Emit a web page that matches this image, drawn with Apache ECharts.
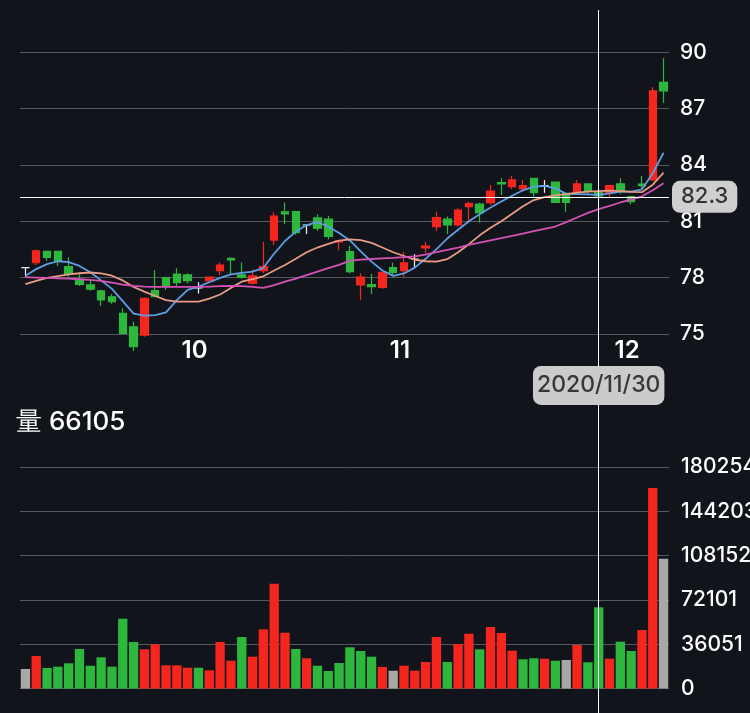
<!DOCTYPE html>
<html><head><meta charset="utf-8">
<script src="https://cdn.jsdelivr.net/npm/echarts@6/dist/echarts.min.js"></script>
<style>html,body{margin:0;padding:0;background:#12141b;}#c{width:750px;height:713px;}</style>
</head><body><div id="c"></div>
<script>
const dates = ['2020/09/15','2020/09/16','2020/09/17','2020/09/18','2020/09/21','2020/09/22','2020/09/23','2020/09/24','2020/09/25','2020/09/28','2020/09/29','2020/09/30',
'2020/10/01','2020/10/02','2020/10/05','2020/10/06','2020/10/07','2020/10/08','2020/10/09','2020/10/12','2020/10/13','2020/10/14','2020/10/15','2020/10/16','2020/10/19','2020/10/20','2020/10/21','2020/10/22','2020/10/23','2020/10/26','2020/10/27','2020/10/28','2020/10/29','2020/10/30',
'2020/11/02','2020/11/03','2020/11/04','2020/11/05','2020/11/06','2020/11/09','2020/11/10','2020/11/11','2020/11/12','2020/11/13','2020/11/16','2020/11/17','2020/11/18','2020/11/19','2020/11/20','2020/11/23','2020/11/24','2020/11/25','2020/11/27','2020/11/30',
'2020/12/01','2020/12/02','2020/12/03','2020/12/04','2020/12/07','2020/12/08'];
const opens = [78.53,78.79,79.40,79.40,78.58,77.91,77.61,77.29,76.98,76.10,75.38,74.94,77.30,78.00,78.18,78.14,77.45,77.82,78.37,79.03,78.14,77.70,78.37,80.00,81.50,81.51,80.80,81.18,81.11,79.90,79.38,77.61,77.62,77.48,78.53,78.37,78.98,79.58,80.71,81.11,80.80,81.78,81.91,81.99,83.06,82.84,82.72,83.29,82.90,83.08,82.49,82.58,82.99,82.55,82.49,82.99,82.31,82.98,83.20,88.40];
const closes = [78.53,79.42,79.08,78.88,78.19,77.64,77.38,76.81,76.72,75.03,74.32,76.90,76.98,77.52,77.73,77.84,77.45,78.02,78.67,78.94,78.02,78.09,78.58,81.28,81.39,80.39,80.80,80.63,80.20,79.97,78.31,78.02,77.52,78.28,78.28,78.79,78.98,79.68,81.19,80.80,81.60,81.96,81.46,82.61,82.99,83.20,82.90,82.52,82.90,82.01,82.01,82.99,82.61,82.35,82.90,82.58,82.04,82.90,87.95,87.95];
const lows = [78.05,78.67,78.90,78.62,78.05,77.55,77.30,76.48,76.60,75.00,74.09,74.85,76.95,77.34,77.55,77.70,77.15,77.78,78.14,78.15,77.95,77.62,78.25,79.74,80.84,80.30,80.32,80.50,80.04,79.45,78.23,76.81,77.13,77.39,78.14,78.05,78.53,79.30,80.50,80.32,80.71,80.89,80.93,81.87,82.40,82.72,82.58,82.31,82.52,81.98,81.51,82.49,82.40,82.30,82.23,82.45,81.91,82.76,83.15,87.30];
const highs = [78.53,79.51,79.42,79.42,79.08,78.18,77.90,77.35,77.13,76.36,75.65,76.95,78.41,78.05,78.50,78.23,77.75,78.05,78.80,79.10,78.80,78.45,79.91,81.48,82.00,81.55,80.80,81.37,81.28,80.00,79.68,78.23,78.19,78.30,78.79,79.38,79.24,79.91,81.51,81.25,81.69,82.04,81.99,82.93,83.29,83.41,83.20,83.32,83.20,83.12,82.52,83.20,83.02,82.60,82.95,83.29,82.35,83.41,88.15,89.68];
const ma5 = [78.10,78.45,78.72,78.87,78.82,78.62,78.28,77.85,77.40,76.75,76.08,75.97,76.00,76.15,76.80,77.35,77.52,77.75,77.98,78.17,78.25,78.32,78.52,79.28,79.95,80.45,80.80,80.95,80.72,80.37,79.98,79.40,78.85,78.38,78.09,78.22,78.53,79.00,79.52,80.08,80.55,81.00,81.37,81.73,82.05,82.36,82.65,82.85,82.88,82.75,82.46,82.45,82.43,82.40,82.48,82.58,82.58,82.70,83.56,84.65];
const ma10 = [77.65,77.83,77.98,78.08,78.17,78.23,78.27,78.22,78.10,77.85,77.50,77.25,77.02,76.80,76.72,76.72,76.72,76.88,77.10,77.45,77.78,77.92,78.07,78.38,78.67,79.00,79.35,79.60,79.80,79.97,80.03,80.00,79.85,79.60,79.35,79.15,78.95,78.87,78.85,78.98,79.35,79.78,80.25,80.65,81.00,81.40,81.80,82.13,82.29,82.38,82.45,82.52,82.58,82.61,82.63,82.60,82.56,82.55,82.95,83.59];
const ma20 = [78.02,78.00,77.98,77.96,77.94,77.91,77.88,77.82,77.73,77.63,77.56,77.52,77.50,77.50,77.50,77.50,77.51,77.52,77.54,77.56,77.54,77.50,77.45,77.60,77.78,77.95,78.13,78.32,78.50,78.68,78.90,78.96,78.99,79.02,79.05,79.09,79.13,79.22,79.35,79.48,79.60,79.74,79.86,79.98,80.10,80.22,80.34,80.47,80.60,80.72,80.95,81.20,81.45,81.65,81.82,82.00,82.15,82.33,82.65,83.02];
const volumes = [15940,26500,16760,17800,20570,32200,18630,25460,17800,56860,37900,31970,36030,18950,18950,17000,17000,14890,37900,22700,41970,25950,48230,85330,45470,32200,24650,18630,14320,20820,33590,30580,25950,17570,14560,18630,14560,21640,41970,21640,36280,44660,31970,50110,45230,30830,23830,24650,24320,22700,23260,35460,21390,66105,24320,38150,30580,47670,163170,105660];
const priceMin = 75, priceMax = 90, priceStep = 3;
const volumeMax = 180254;
const volumeTickLabels = ['0','36051','72101','108152','144203','180254'];
const monthLabelIndex = [16, 35, 56];
const monthLabels = ['10', '11', '12'];
const crossDate = '2020/11/30';
const crossPrice = 82.3;

const UP = '#f4261e', DOWN = '#2db83d', FLAT = '#a8a8a8';
const FONT = 'Inter, Roboto, "Noto Sans", sans-serif';
const crossIdx = dates.indexOf(crossDate);
const volStep = volumeMax / 5;

const chart = echarts.init(document.getElementById('c'));
chart.setOption({
  backgroundColor: '#12141b',
  animation: false,
  textStyle: { fontFamily: FONT },
  title: {
    text: '量 ' + volumes[crossIdx],
    left: 16, top: 409, padding: 0,
    textStyle: { color: '#ffffff', fontSize: 26, fontWeight: 500, fontFamily: FONT }
  },
  grid: [
    { left: 20, right: 81, top: 52.3, height: 281.6, outerBoundsMode: 'none', containLabel: false },
    { left: 20, right: 81, top: 467, bottom: 24.4, outerBoundsMode: 'none', containLabel: false },
    { left: 20, right: 81, top: 10, bottom: 0, outerBoundsMode: 'none', containLabel: false }
  ],
  xAxis: [
    { type: 'category', data: dates, gridIndex: 0, boundaryGap: true,
      axisLine: { show: false }, axisTick: { show: false }, splitLine: { show: false },
      axisLabel: {
        interval: (i) => monthLabelIndex.indexOf(i) >= 0,
        formatter: (v, i) => monthLabels[monthLabelIndex.indexOf(i)] || '',
        color: '#ffffff', fontSize: 24, fontWeight: 600, margin: 5, padding: [0, 8, 0, 0], fontFamily: FONT
      } },
    { type: 'category', data: dates, gridIndex: 1, boundaryGap: true,
      axisLine: { show: false }, axisTick: { show: false }, axisLabel: { show: false }, splitLine: { show: false } },
    { type: 'category', data: dates, gridIndex: 2, boundaryGap: true, show: false }
  ],
  yAxis: [
    { type: 'value', gridIndex: 0, position: 'right', min: priceMin, max: priceMax, interval: priceStep,
      axisLine: { show: false }, axisTick: { show: false },
      splitLine: { lineStyle: { color: '#56585f', width: 1 } },
      axisLabel: { color: '#ffffff', fontSize: 21, fontWeight: 500, margin: 11, fontFamily: FONT } },
    { type: 'value', gridIndex: 1, position: 'right', min: 0, max: volumeMax, interval: volStep,
      axisLine: { show: false }, axisTick: { show: false },
      splitLine: { lineStyle: { color: '#56585f', width: 1 } },
      axisLabel: { color: '#ffffff', fontSize: 21, fontWeight: 500, margin: 12, fontFamily: FONT,
        formatter: (v) => volumeTickLabels[Math.round(v / volStep)] } },
    { type: 'value', gridIndex: 2, show: false, scale: true }
  ],
  series: [
    { type: 'candlestick', xAxisIndex: 0, yAxisIndex: 0, clip: false, barWidth: 8,
      data: dates.map((d, i) => [opens[i], closes[i], lows[i], highs[i]]),
      itemStyle: { color: UP, color0: DOWN, borderColor: UP, borderColor0: DOWN, borderColorDoji: '#f2f2f2', borderWidth: 1.2 },
      markLine: {
        silent: true, symbol: ['none', 'none'], animation: false,
        data: [
          { yAxis: crossPrice,
            lineStyle: { color: '#ffffff', width: 1, type: 'solid' },
            label: { show: true, position: 'end', distance: 3, formatter: String(crossPrice),
              color: '#333333', fontSize: 22, fontWeight: 500, fontFamily: FONT,
              backgroundColor: '#cfcfcf', borderRadius: 8, padding: [5, 9] } },
          { xAxis: crossDate,
            lineStyle: { color: '#ffffff', width: 1, type: 'solid' },
            label: { show: true, position: 'start', distance: 32, formatter: crossDate,
              color: '#383838', fontSize: 23, fontWeight: 500, fontFamily: FONT,
              backgroundColor: '#cbcbcb', borderRadius: 8, padding: [8, 4] } }
        ]
      } },
    { type: 'line', name: 'MA5', data: ma5, xAxisIndex: 0, yAxisIndex: 0, symbol: 'none', clip: false,
      lineStyle: { color: '#5e9fe3', width: 1.8 } },
    { type: 'line', name: 'MA10', data: ma10, xAxisIndex: 0, yAxisIndex: 0, symbol: 'none', clip: false,
      lineStyle: { color: '#e99b86', width: 1.8 } },
    { type: 'line', name: 'MA20', data: ma20, xAxisIndex: 0, yAxisIndex: 0, symbol: 'none', clip: false,
      lineStyle: { color: '#d452b6', width: 1.8 } },
    { type: 'bar', xAxisIndex: 1, yAxisIndex: 1, barWidth: '86%', data: volumes,
      itemStyle: { color: (p) => {
        const i = p.dataIndex;
        if (i === 0 || closes[i] === closes[i - 1]) return FLAT;
        return closes[i] > closes[i - 1] ? UP : DOWN;
      } } },
    { type: 'line', xAxisIndex: 2, yAxisIndex: 2, data: closes, symbol: 'none', silent: true,
      lineStyle: { opacity: 0 },
      markLine: { silent: true, symbol: ['none', 'none'], animation: false,
        label: { show: false },
        lineStyle: { color: '#ffffff', width: 1, type: 'solid' },
        data: [{ xAxis: crossDate }] } }
  ]
});
</script></body></html>
